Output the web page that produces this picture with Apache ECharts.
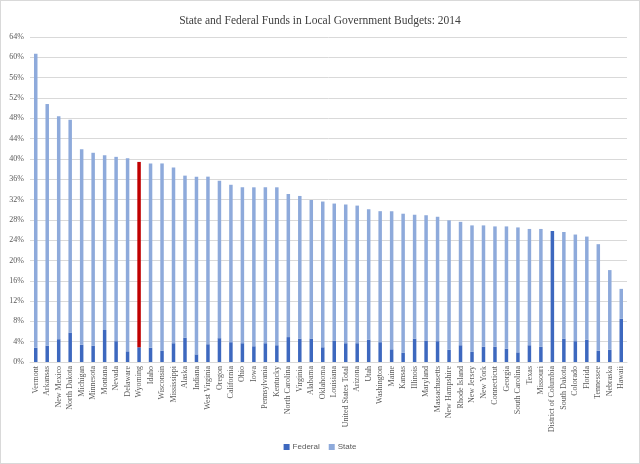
<!DOCTYPE html>
<html><head><meta charset="utf-8">
<script src="https://cdn.jsdelivr.net/npm/echarts@6/dist/echarts.min.js"></script>
<style>html,body{margin:0;padding:0;background:#fff}#c{width:640px;height:464px;box-sizing:border-box;border:1px solid #d9d9d9}</style>
</head><body><div id="c"></div>
<script>
const title = "State and Federal Funds in Local Government Budgets: 2014";
const categories = ["Vermont","Arkansas","New Mexico","North Dakota","Michigan","Minnesota","Montana","Nevada","Delaware","Wyoming","Idaho","Wisconsin","Mississippi","Alaska","Indiana","West Virginia","Oregon","California","Ohio","Iowa","Pennsylvania","Kentucky","North Carolina","Virginia","Alabama","Oklahoma","Louisiana","United States Total","Arizona","Utah","Washington","Maine","Kansas","Illinois","Maryland","Massachusetts","New Hampshire","Rhode Island","New Jersey","New York","Connecticut","Georgia","South Carolina","Texas","Missouri","District of Columbia","South Dakota","Colorado","Florida","Tennessee","Nebraska","Hawaii"];
const federal = [2.8,3.2,4.5,5.8,3.4,3.2,6.3,4.1,2.1,2.9,2.8,2.2,3.7,4.8,1.5,3.5,4.7,3.9,3.7,3.1,3.7,3.3,4.9,4.6,4.6,2.9,4.2,3.7,3.7,4.4,3.9,2.5,1.8,4.6,4.2,4.1,2.4,3.3,2.0,3.0,3.0,2.6,1.9,3.3,3.0,25.8,4.6,4.1,4.4,2.2,2.4,8.5];
const state = [57.9,47.6,43.9,41.9,38.5,38.0,34.4,36.3,38.0,36.5,36.3,36.9,34.6,31.9,35.0,33.0,31.0,31.0,30.7,31.3,30.7,31.1,28.2,28.1,27.3,28.7,27.0,27.3,27.1,25.7,25.8,27.2,27.4,24.4,24.7,24.5,25.5,24.3,24.9,23.9,23.7,24.1,24.6,22.9,23.2,0,21.0,21.0,20.3,21.0,15.7,5.9];
const highlight = "Wyoming";
const yMin = 0, yMax = 64, yStep = 4;

const FED = "#3d68bf", ST = "#8eaadb", HL = "#c00000";
const chart = echarts.init(document.getElementById('c'));
chart.setOption({
  animation: false,
  title: {text: title, left: 'center', top: 9, textStyle: {fontFamily: 'Liberation Serif', fontSize: 11.5, fontWeight: 'normal', color: '#404040'}},
  grid: {left: 29, right: 12, top: 36, bottom: 101, containLabel: false},
  legend: {bottom: 7, left: 'center', itemWidth: 6, itemHeight: 6, itemGap: 9, icon: 'rect',
    textStyle: {fontFamily: 'Liberation Sans', fontSize: 8, color: '#595959', padding: [0,0,0,-2]},
    data: ['Federal','State']},
  xAxis: {type: 'category', data: categories,
    axisLine: {lineStyle: {color: '#d9d9d9'}}, axisTick: {show: false},
    axisLabel: {rotate: 90, interval: 0, fontFamily: 'Liberation Serif', fontSize: 8, color: '#595959', margin: 4}},
  yAxis: {type: 'value', min: yMin, max: yMax, interval: yStep,
    axisLabel: {formatter: '{value}%', fontFamily: 'Liberation Serif', fontSize: 8, color: '#595959', margin: 6},
    splitLine: {lineStyle: {color: '#d9d9d9', width: 1}}, axisLine: {show: false}, axisTick: {show: false}},
  series: [
    {name: 'Federal', type: 'bar', stack: 't', data: federal, barWidth: 3.5, itemStyle: {color: FED}},
    {name: 'State', type: 'bar', stack: 't', barWidth: 3.5, itemStyle: {color: ST},
      data: state.map((v, i) => categories[i] === highlight ? {value: v, itemStyle: {color: HL}} : v)}
  ]
});
</script></body></html>
